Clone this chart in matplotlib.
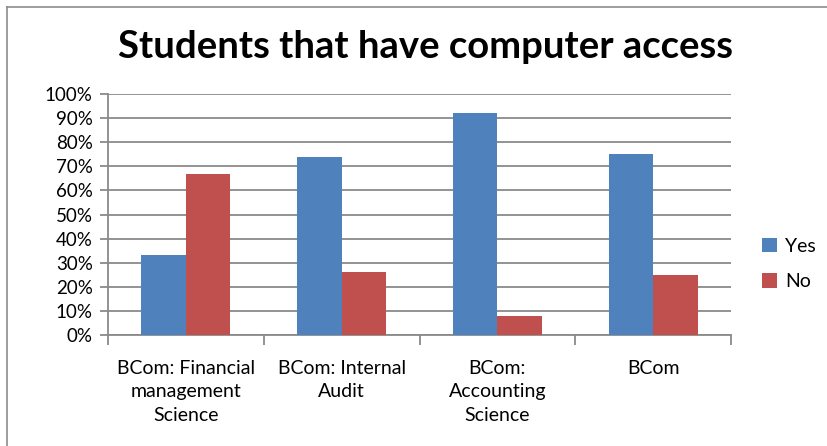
import matplotlib
matplotlib.use("Agg")
import matplotlib.pyplot as plt
import numpy as np
from matplotlib.lines import Line2D

categories = ["BCom: Financial\nmanagement\nScience", "BCom: Internal\nAudit",
              "BCom:\nAccounting\nScience", "BCom"]
yes_vals = [33.3, 74.0, 92.3, 75.0]
no_vals = [66.7, 26.0, 7.7, 25.0]
series_names = ["Yes", "No"]
yticks = list(range(0, 101, 10))
title = "Students that have computer access"

FONT = ["Lato", "DejaVu Sans"]
plt.rcParams['font.family'] = FONT

W, H = 827, 446
fig = plt.figure(figsize=(W / 100, H / 100), dpi=100)
fig.patch.set_facecolor("white")

# chart border
fig.add_artist(Line2D([7 / W, 7 / W], [0, 1 - 7 / H], color="#8c8c8c", lw=1.2))
fig.add_artist(Line2D([7 / W, 1], [1 - 7 / H, 1 - 7 / H], color="#8c8c8c", lw=1.2))

left, right, top, bottom = 108, 731, 94, 335
ax = fig.add_axes([left / W, 1 - bottom / H, (right - left) / W, (bottom - top) / H])

x = np.arange(len(categories))
bw = 1 / 3.5
blue = "#4f81bd"
red = "#c0504d"
ax.bar(x - bw / 2, yes_vals, width=bw, color=blue, label=series_names[0], zorder=3)
ax.bar(x + bw / 2, no_vals, width=bw, color=red, label=series_names[1], zorder=3)

ax.set_xlim(-0.5, len(categories) - 0.5)
ax.set_ylim(0, 100)
ax.set_yticks(yticks)
ax.set_yticklabels([f"{t}%" for t in yticks], fontsize=13.5)
ax.yaxis.grid(True, color="#8a8a8a", lw=1.3, zorder=0)
ax.set_axisbelow(True)

ax.set_xticks(x)
ax.set_xticklabels(categories, fontsize=14, linespacing=1.45)
ax.set_xticks(np.arange(-0.5, len(categories)), minor=True)
ax.tick_params(axis="x", which="major", length=0, pad=18)
ax.tick_params(axis="x", which="minor", length=7, color="#8a8a8a", width=1.3)
ax.tick_params(axis="y", length=6, color="#8a8a8a", width=1.3, pad=5)

for s in ["top", "right"]:
    ax.spines[s].set_visible(False)
for s in ["left", "bottom"]:
    ax.spines[s].set_color("#8a8a8a")
    ax.spines[s].set_linewidth(1.3)

fig.text(425 / W, 1 - 47 / H, title, ha="center", va="center",
         fontsize=27.5, fontweight="bold")

leg = fig.legend(loc="center left", bbox_to_anchor=(762 / W, 1 - 264 / H),
                 frameon=False, fontsize=14, handlelength=0.75, handleheight=0.75,
                 handletextpad=0.45, labelspacing=0.95, borderpad=0, borderaxespad=0)

fig.savefig("out.png", dpi=100)
